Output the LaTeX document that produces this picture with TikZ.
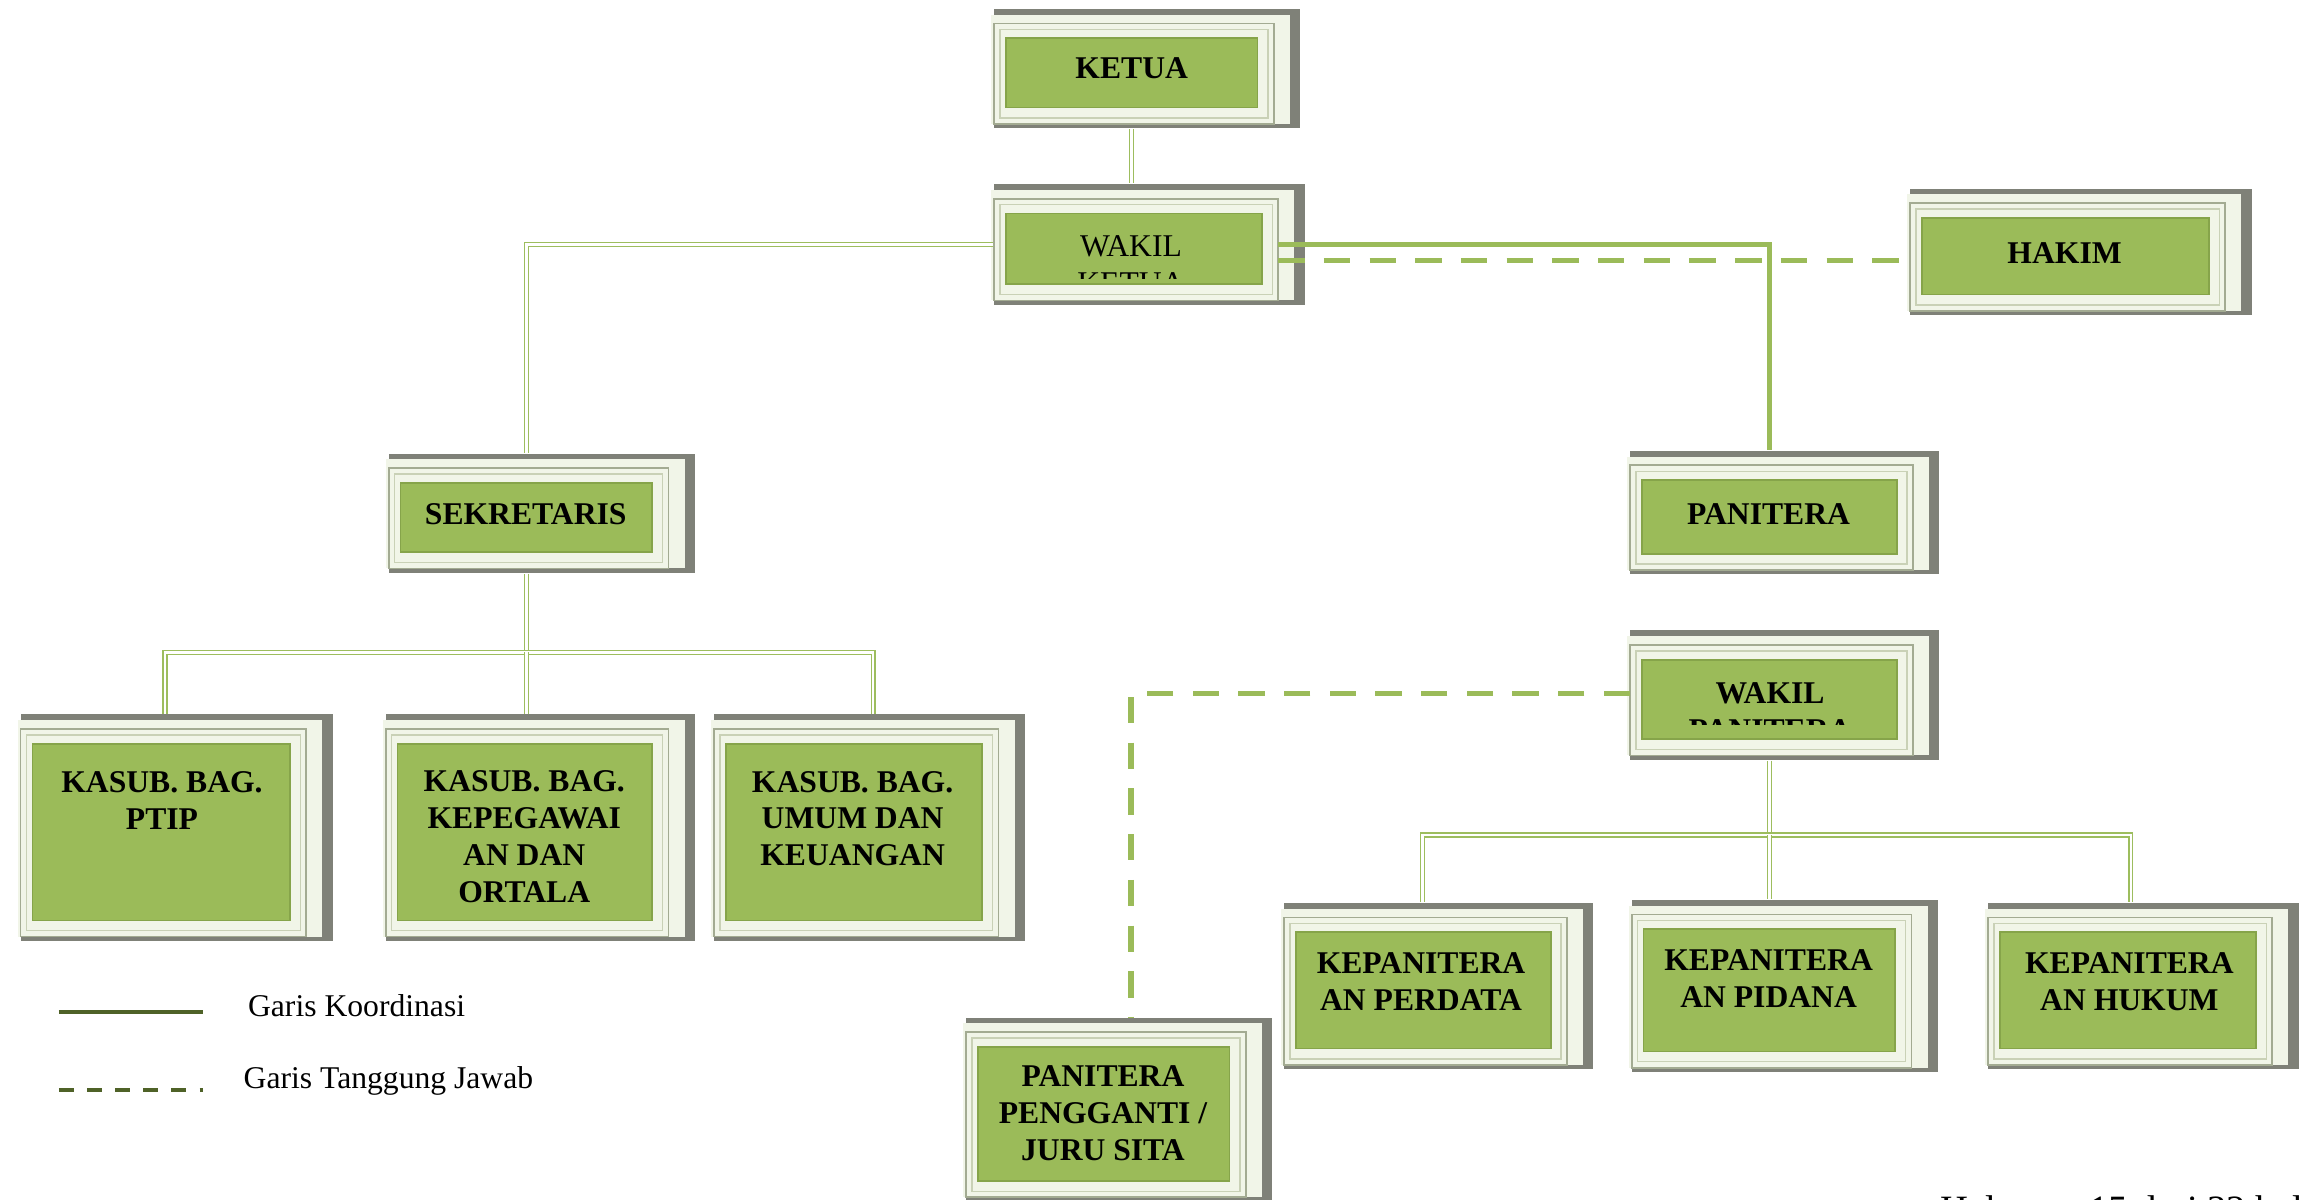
\documentclass[tikz,border=0pt]{standalone}
\usepackage{fontspec}
\setmainfont{Liberation Serif}
\usetikzlibrary{calc,fit}
\definecolor{gfill}{HTML}{9BBB59}
\definecolor{gborder}{HTML}{86A44A}
\definecolor{shadowgray}{HTML}{7F8178}
\definecolor{glowc}{HTML}{F1F5E8}
\definecolor{frameA}{HTML}{A3AB92}
\definecolor{frameB}{HTML}{C9D1B6}
\definecolor{connc}{HTML}{9DBD5E}
\definecolor{legc}{HTML}{4F6228}
\tikzset{
  x=0.014726cm, y=-0.014726cm,
  greenbox/.style={fill=gfill, draw=gborder, line width=0.5pt, inner sep=0pt},
  outerbox/.style={inner sep=0pt},
  conn/.style={draw=connc, line width=0.4pt, double=white, double distance=0.7pt},
  connthick/.style={draw=gfill, line width=1.4pt},
  dashline/.style={draw=gfill, line width=1.5pt, dash pattern=on 7.5pt off 5.5pt},
  legsolid/.style={draw=legc, line width=1.1pt},
  legdash/.style={draw=legc, line width=1.1pt, dash pattern=on 4.3pt off 3.7pt},
  lblb/.style={font=\fontsize{9}{10.5}\selectfont\bfseries, align=center, inner sep=0pt, anchor=base},
  lblr/.style={font=\fontsize{9}{10.5}\selectfont, align=center, inner sep=0pt, anchor=base},
  legtext/.style={font=\fontsize{9}{10.5}\selectfont, inner sep=0pt, anchor=base west},
  foottext/.style={font=\fontsize{11}{13}\selectfont, inner sep=0pt, anchor=base west},
}
\newcommand{\orgbox}[5]{%
  \fill[shadowgray] ({#2-8},{#3-20}) rectangle ({#4+29},{#5+14});
  \fill[glowc] ({#2-10},{#3-16}) rectangle ({#4+22},{#5+11});
  \draw[frameA, line width=0.5pt] ({#2-8},{#3-10}) rectangle ({#4+11},{#5+11});
  \draw[frameB, line width=0.4pt] ({#2-4},{#3-6}) rectangle ({#4+7},{#5+7});
  \node[greenbox, fit={(#2,#3) (#4,#5)}] (#1) {};
  \node[outerbox, fit={({#2-8},{#3-20}) ({#4+29},{#5+14})}] (#1-out) {};
}
\begin{document}
\begin{tikzpicture}
\useasboundingbox (0,0) rectangle (1568,814.5);
\clip (0,0) rectangle (1568,814.5);
\fill[white] (0,0) rectangle (1568,814.5);

% boxes
\orgbox{ketua}{683}{26}{854}{73}
\orgbox{wketua}{683}{145}{857}{193}
\orgbox{hakim}{1305}{148}{1500}{200}
\orgbox{sekre}{272}{328}{443}{375}
\orgbox{panitera}{1115}{326}{1288}{376}
\orgbox{wpan}{1115}{448}{1288}{502}
\orgbox{kasubA}{22}{505}{197}{625}
\orgbox{kasubB}{270}{505}{443}{625}
\orgbox{kasubC}{493}{505}{667}{625}
\orgbox{kepA}{880}{633}{1053}{712}
\orgbox{kepB}{1116}{631}{1287}{714}
\orgbox{kepC}{1358}{633}{1532}{712}
\orgbox{pp}{664}{711}{835}{802}

% texts (anchor base = baseline of the last line)
\node[lblb] (t-ketua) at (768.5,53) {KETUA};
\begin{scope}
  \clip (683,145) rectangle (857,189);
  \node[lblr] (t-wketua) at (768,199) {WAKIL\\KETUA};
\end{scope}
\node[lblb] (t-hakim) at (1402,179) {HAKIM};
\node[lblb] (t-sekre) at (357,356) {SEKRETARIS};
\node[lblb] (t-panitera) at (1201,356) {PANITERA};
\begin{scope}
  \clip (1115,448) rectangle (1288,492);
  \node[lblb] (t-wpan) at (1202,503) {WAKIL\\PANITERA};
\end{scope}
\node[lblb] (t-kasubA) at (110,563) {KASUB. BAG.\\PTIP};
\node[lblb] (t-kasubB) at (356,613) {KASUB. BAG.\\KEPEGAWAI\\AN DAN\\ORTALA};
\node[lblb] (t-kasubC) at (579,588) {KASUB. BAG.\\UMUM DAN\\KEUANGAN};
\node[lblb] (t-kepA) at (965,686) {KEPANITERA\\AN PERDATA};
\node[lblb] (t-kepB) at (1201,684) {KEPANITERA\\AN PIDANA};
\node[lblb] (t-kepC) at (1446,686) {KEPANITERA\\AN HUKUM};
\node[lblb] (t-pp) at (749,788) {PANITERA\\PENGGANTI /\\JURU SITA};

% coordinates for connector bends
\coordinate (wkR) at (868,166);
\coordinate (wkRd) at (868,177);
\coordinate (wpL) at (1107,471);
\coordinate (sbusL) at (112,443);
\coordinate (sbusR) at (593,443);
\coordinate (pbusL) at (966,567);
\coordinate (pbusR) at (1447,567);
\coordinate (ppTop) at (768,691);

% connectors
\draw[conn] (ketua |- ketua-out.south) -- (ketua |- wketua-out.north);
\draw[conn] (wketua-out.west |- wkR) -| (sekre |- sekre-out.north);
\draw[conn] (sekre |- sekre-out.south) -- (sekre |- sbusL);
\draw[conn] (sbusL |- kasubA-out.north) -- (sbusL) -- (sbusR) -- (sbusR |- kasubC-out.north);
\draw[conn] (sekre |- sbusL) -- (sekre |- kasubB-out.north);
\draw[conn] (wpan |- wpan-out.south) -- (wpan |- pbusL);
\draw[conn] (pbusL |- kepA-out.north) -- (pbusL) -- (pbusR) -- (pbusR |- kepC-out.north);
\draw[conn] (wpan |- pbusL) -- (wpan |- kepB-out.north);
\draw[connthick] (wkR) -| (panitera |- panitera-out.north);
\draw[dashline] (wkRd) -- (hakim-out.west |- wkRd);
\draw[dashline] (wpL) -| (ppTop);

% legend
\coordinate (lgA1) at (40,687);
\coordinate (lgA2) at (138,687);
\coordinate (lgB1) at (40,740);
\coordinate (lgB2) at (138,740);
\draw[legsolid] (lgA1) -- (lgA2);
\draw[legdash] (lgB1) -- (lgB2);
\node[legtext] (leg1) at (168,690) {Garis Koordinasi};
\node[legtext] (leg2) at (165,739) {Garis Tanggung Jawab};

% page footer (cut off at the bottom edge, as in the source)
\node[foottext] (foot) at (1317,830) {Halaman 15 dari 32 halaman};
\end{tikzpicture}
\end{document}
